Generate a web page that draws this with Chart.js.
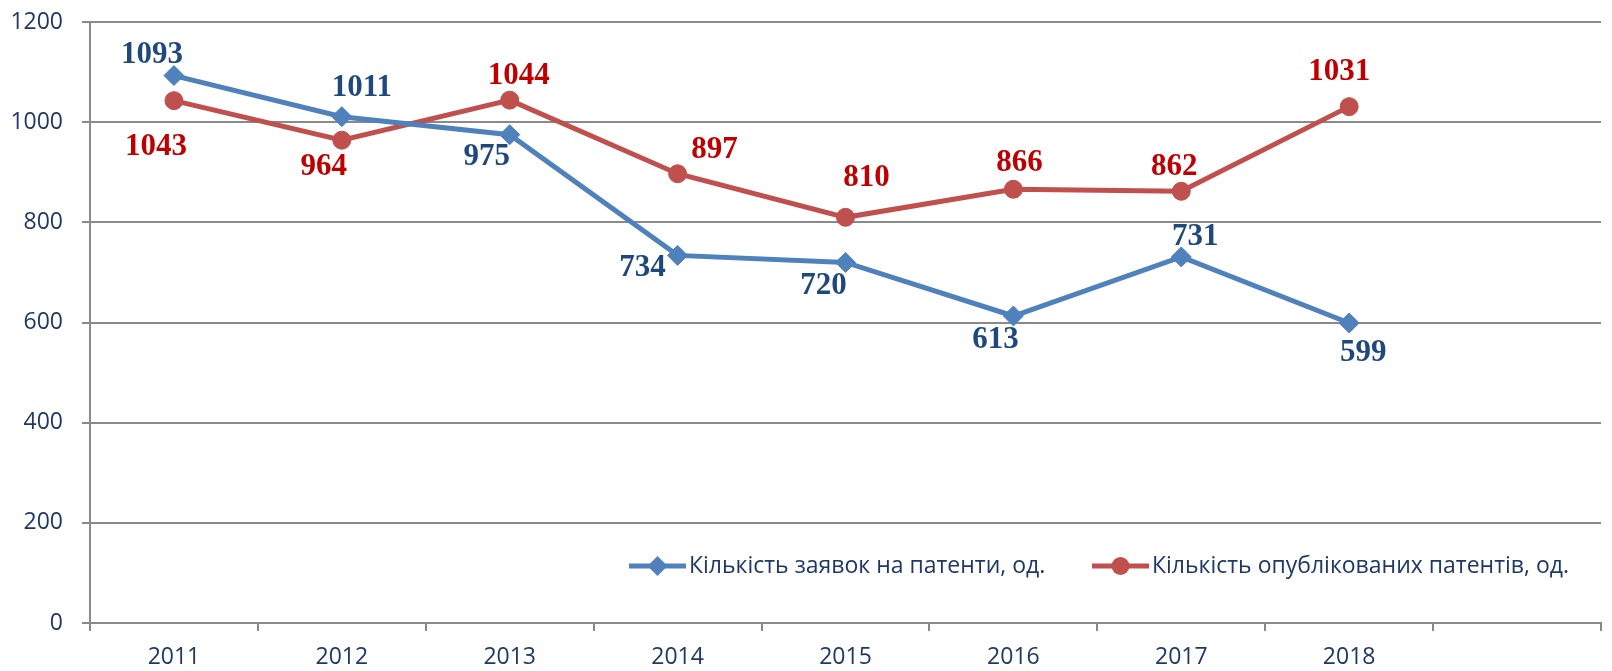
<!DOCTYPE html>
<html>
<head>
<meta charset="utf-8">
<script src="https://cdn.jsdelivr.net/npm/chart.js@4.4.0/dist/chart.umd.min.js"></script>
<style>
  html, body { margin: 0; padding: 0; background: #fff; }
  #wrap { width: 1612px; height: 671px; position: relative; }
</style>
</head>
<body>
<div id="wrap"><canvas id="chart"></canvas></div>
<script>
// Роки (дев'ята категорія порожня, як в оригіналі)
const years = ['2011', '2012', '2013', '2014', '2015', '2016', '2017', '2018', ''];
const applications = [1093, 1011, 975, 734, 720, 613, 731, 599];
const published = [1043, 964, 1044, 897, 810, 866, 862, 1031];
const yTicks = [0, 200, 400, 600, 800, 1000, 1200];
const seriesNames = ['Кількість заявок на патенти, од.', 'Кількість опублікованих патентів, од.'];

// Зміщення підписів значень відносно точок, px
const applicationsLabelOffsets = [[-22, -21], [20, -29], [-23, 22], [-35, 13], [-22, 24], [-18, 24], [14, -20], [14, 30]];
const publishedLabelOffsets = [[-18, 46], [-18, 27], [9, -24], [37, -24], [21, -39], [6, -26], [-7, -24], [-10, -35]];

const axisGray = '#8a8a8a';
const navy = '#1F3864';
const sansFont = '"Open Sans", "DejaVu Sans", sans-serif';

/**
 * Підписи значень біля кожної точки
 */
const valueLabels = {
    id: 'valueLabels',
    afterDatasetsDraw(chart, args, opts) {
        const ctx = chart.ctx;
        ctx.save();
        ctx.font = opts.font;
        ctx.textAlign = 'center';
        ctx.textBaseline = 'middle';
        chart.data.datasets.forEach((ds, i) => {
            const meta = chart.getDatasetMeta(i);
            ctx.fillStyle = opts.colors[i];
            meta.data.forEach((pt, j) => {
                const off = opts.offsets[i][j];
                ctx.fillText(String(ds.data[j]), pt.x + off[0], pt.y + off[1]);
            });
        });
        ctx.restore();
    }
};

/**
 * Легенда всередині області графіка
 */
const insideLegend = {
    id: 'insideLegend',
    afterDraw(chart, args, opts) {
        const ctx = chart.ctx;
        ctx.save();
        chart.data.datasets.forEach((ds, i) => {
            const x = opts.x[i];
            const y = opts.y;
            const mid = x + opts.lineLength / 2;
            ctx.strokeStyle = ds.borderColor;
            ctx.lineWidth = ds.borderWidth;
            ctx.beginPath();
            ctx.moveTo(x, y);
            ctx.lineTo(x + opts.lineLength, y);
            ctx.stroke();

            ctx.fillStyle = ds.pointBackgroundColor;
            ctx.beginPath();
            const r = ds.pointRadius;
            if (ds.pointStyle === 'rectRot') {
                ctx.moveTo(mid, y - r);
                ctx.lineTo(mid + r, y);
                ctx.lineTo(mid, y + r);
                ctx.lineTo(mid - r, y);
                ctx.closePath();
            } else {
                ctx.arc(mid, y, r, 0, Math.PI * 2);
            }
            ctx.fill();

            ctx.font = opts.font;
            ctx.fillStyle = opts.color;
            ctx.textAlign = 'left';
            ctx.textBaseline = 'middle';
            ctx.fillText(ds.label, x + opts.lineLength + opts.gap, y);
        });
        ctx.restore();
    }
};

new Chart(document.getElementById('chart'), {
    type: 'line',
    data: {
        labels: years,
        datasets: [{
            label: seriesNames[0],
            data: applications,
            borderColor: '#4F81BD',
            backgroundColor: '#4F81BD',
            pointBackgroundColor: '#4F81BD',
            pointBorderColor: '#4F81BD',
            borderWidth: 5,
            pointStyle: 'rectRot',
            pointRadius: 10,
            pointBorderWidth: 1,
            tension: 0
        }, {
            label: seriesNames[1],
            data: published,
            borderColor: '#C0504D',
            backgroundColor: '#C0504D',
            pointBackgroundColor: '#C0504D',
            pointBorderColor: '#C0504D',
            borderWidth: 5,
            pointStyle: 'circle',
            pointRadius: 9,
            pointBorderWidth: 1,
            tension: 0
        }]
    },
    options: {
        responsive: true,
        maintainAspectRatio: false,
        animation: false,
        events: [],
        layout: { padding: { top: 22, right: 0, bottom: 0, left: 0 } },
        plugins: {
            legend: { display: false },
            tooltip: { enabled: false },
            valueLabels: {
                font: 'bold 31px "Liberation Serif", "Times New Roman", serif',
                colors: ['#1F497D', '#C00000'],
                offsets: [applicationsLabelOffsets, publishedLabelOffsets]
            },
            insideLegend: {
                x: [629, 1092],
                y: 566,
                lineLength: 57,
                gap: 3,
                font: '23px ' + sansFont,
                color: navy
            }
        },
        scales: {
            x: {
                offset: true,
                grid: {
                    offset: true,
                    drawOnChartArea: false,
                    color: axisGray,
                    lineWidth: 2,
                    tickLength: 8
                },
                border: { color: axisGray, width: 2 },
                ticks: {
                    color: navy,
                    font: { family: sansFont, size: 23 },
                    padding: 13,
                    maxRotation: 0,
                    autoSkip: false
                },
                afterFit(scale) { scale.height = 48; }
            },
            y: {
                min: yTicks[0],
                max: yTicks[yTicks.length - 1],
                grid: {
                    color: axisGray,
                    lineWidth: 2,
                    tickLength: 8
                },
                border: { color: axisGray, width: 2 },
                ticks: {
                    stepSize: yTicks[1] - yTicks[0],
                    color: navy,
                    font: { family: sansFont, size: 23 },
                    padding: 19,
                    callback: (value) => String(value)
                },
                afterFit(scale) {
                    scale.width = 90;
                    // не резервувати місце над верхньою міткою
                    scale.paddingTop = 0;
                    scale.paddingBottom = 0;
                }
            }
        }
    },
    plugins: [valueLabels, insideLegend]
});
</script>
</body>
</html>
